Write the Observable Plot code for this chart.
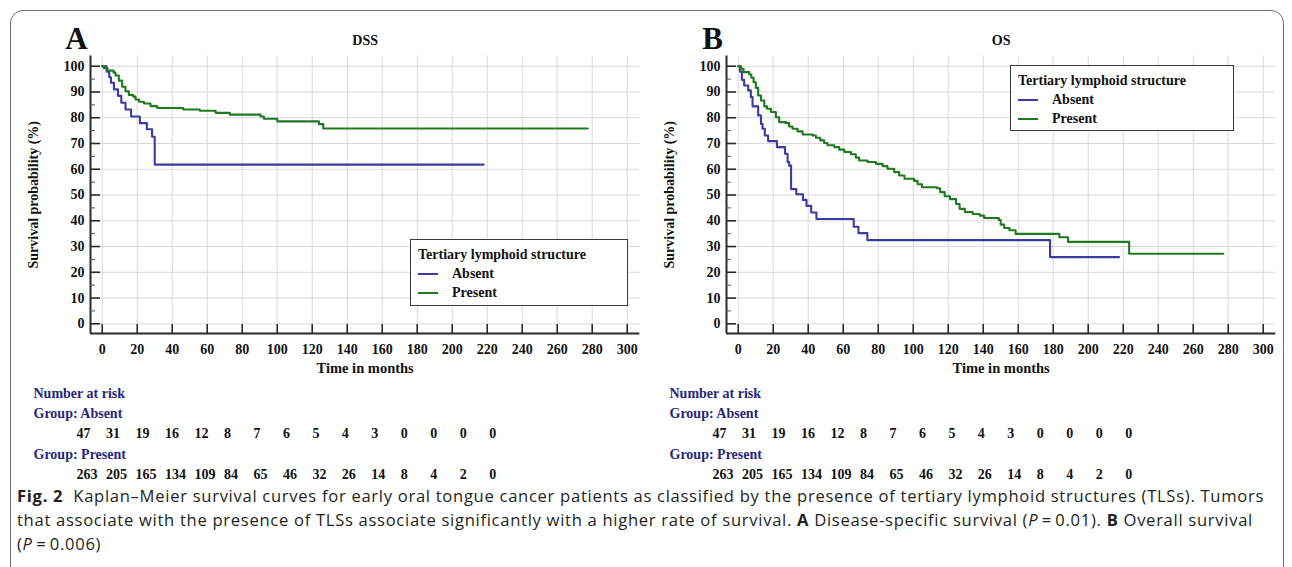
<!DOCTYPE html>
<html><head><meta charset="utf-8">
<script src="https://cdn.jsdelivr.net/npm/d3@7"></script>
<script src="https://cdn.jsdelivr.net/npm/@observablehq/plot@0.6"></script>
<style>
html,body{margin:0;padding:0;background:#fff;}
body{width:1292px;height:567px;overflow:hidden;position:relative;font-family:"Liberation Serif",serif;}
#frame{position:absolute;left:10px;top:10px;width:1272px;height:620px;border:1.6px solid #6e6e6e;border-radius:13px;}
.abs{position:absolute;}
.legend{position:absolute;border:1.6px solid #3a3a3a;background:#fff;box-sizing:border-box;font-weight:bold;font-size:14px;color:#111;}
.legend .ttl{position:absolute;left:7px;white-space:nowrap;}
.legend .item{position:absolute;left:7px;white-space:nowrap;}
.legend .item span.sw{display:inline-block;width:20px;height:2px;vertical-align:middle;margin-right:14px;position:relative;top:-1px;}
#caption{position:absolute;left:17px;top:484px;font-family:"Open Sans","Noto Sans",sans-serif;font-size:16.6px;letter-spacing:0.7px;line-height:24px;color:#231f20;white-space:nowrap;}
#caption b{font-weight:bold;}
</style>
</head><body>
<div id="frame"></div>
<div id="panelA" class="abs" style="left:0;top:0"></div>
<div id="panelB" class="abs" style="left:636px;top:0"></div>
<div id="riskA" class="abs" style="left:0;top:380px"></div>
<div id="riskB" class="abs" style="left:636px;top:380px"></div>
<div id="legA"></div>
<div id="legB"></div>
<div id="caption">
<div><b>Fig. 2</b>&nbsp; Kaplan–Meier survival curves for early oral tongue cancer patients as classified by the presence of tertiary lymphoid structures (TLSs). Tumors</div>
<div>that associate with the presence of TLSs associate significantly with a higher rate of survival. <b>A</b> Disease-specific survival (<i>P</i>&#8201;=&#8201;0.01). <b>B</b> Overall survival</div>
<div>(<i>P</i>&#8201;=&#8201;0.006)</div>
</div>
<script>
// ---------- data ----------
const groups = ["Absent", "Present"];
const groupColors = ["#3b3ba0", "#1f7a1f"];
const xTicks = [0, 20, 40, 60, 80, 100, 120, 140, 160, 180, 200, 220, 240, 260, 280, 300];
const yTicks = [0, 10, 20, 30, 40, 50, 60, 70, 80, 90, 100];
const yMinorTicks = [5, 15, 25, 35, 45, 55, 65, 75, 85, 95];

// DSS (panel A)
const dssAbsentT = [0, 2.5, 4, 5, 6.7, 9, 10.9, 13.3, 16.5, 21.5, 25.5, 28.5, 30, 218];
const dssAbsentS = [100, 97.9, 95.7, 93.6, 91.0, 88.5, 85.8, 83.2, 80.5, 77.9, 75.5, 72.6, 61.8, 61.8];
const dssPresentT = [0, 1, 3, 6.5, 7.6, 9.5, 11.4, 13.3, 15.2, 17.7, 19, 21, 23.8, 27.6, 31.4, 46.3, 55.8, 64.8, 72.9, 90.5, 92.4, 100, 123.8, 126.3, 277.5];
const dssPresentS = [100, 99.2, 98.3, 97.5, 96.4, 94.4, 92.0, 90.3, 88.8, 88.2, 87.1, 86.2, 85.5, 84.5, 83.8, 83.2, 82.7, 81.9, 81.2, 80.5, 79.6, 78.6, 77.5, 75.8, 75.8];

// OS (panel B)
const osAbsentT = [0, 1, 2.1, 3.4, 5.7, 7.2, 8.2, 11.4, 13, 13.9, 15.2, 17.1, 22.1, 26.7, 28.2, 29.1, 30.2, 33.2, 37, 39, 41.7, 44.7, 66, 68.7, 73.8, 178.2, 217.6];
const osAbsentS = [100, 97.9, 94.7, 92.5, 90.6, 88.0, 84.4, 80.9, 77.6, 75.7, 73.1, 70.9, 68.6, 66.0, 62.8, 61.4, 52.3, 50.3, 48.1, 45.8, 43.2, 40.7, 37.7, 35.2, 32.5, 25.9, 25.9];
const osPresentT = [0, 1.5, 3, 6.3, 7.5, 8.8, 10.1, 11.4, 13, 14.9, 16.4, 18.7, 21.5, 23.4, 27.2, 29.1, 31, 33.9, 36.8, 42.5, 44.4, 46.9, 49.1, 51, 54.9, 57.7, 60.6, 64.4, 67.2, 69.1, 73.9, 78.7, 82.5, 85.3, 89.1, 92, 95, 100.5, 102.5, 105, 113.5, 115.4, 118, 121, 124.5, 126.5, 129.5, 134, 138, 140.5, 148.9, 150, 152, 155, 158.5, 183.5, 188.5, 223.4, 277.2];
const osPresentS = [100, 99.0, 97.7, 96.8, 95.5, 93.8, 91.6, 88.6, 86.7, 84.4, 83.5, 82.2, 80.2, 78.3, 77.9, 76.6, 75.7, 74.7, 73.5, 73.1, 72.2, 71.2, 70.2, 69.3, 68.6, 67.6, 66.7, 65.8, 64.5, 63.4, 62.8, 62.1, 61.2, 60.2, 58.9, 57.6, 56.3, 55.5, 54.2, 53.0, 52.6, 51.1, 49.5, 48.4, 46.5, 44.6, 43.4, 42.6, 42.0, 41.1, 40.3, 38.5, 37.2, 36.3, 34.9, 33.6, 31.8, 27.2, 27.2];

// numbers at risk
const riskTimes = [0, 20, 40, 60, 80, 100, 120, 140, 160, 180, 200, 220, 240, 260, 280];
const riskAbsent = [47, 31, 19, 16, 12, 8, 7, 6, 5, 4, 3, 0, 0, 0, 0];
const riskPresent = [263, 205, 165, 134, 109, 84, 65, 46, 32, 26, 14, 8, 4, 2, 0];

// ---------- layout constants ----------
const W = 650, H = 380;
const ML = 90, MR = 10.7, MT = 55.4, MB = 46.9;
const X0 = -6.7, X1 = 307.2, Y0 = -3.8, Y1 = 104;
const pxPerX = (W - ML - MR) / (X1 - X0);
const pxPerY = (H - MT - MB) / (Y1 - Y0);
const serif = "Liberation Serif, Times New Roman, serif";
const navy = "#26267a";

function rows(t, s, g) { return t.map((v, i) => ({t: v, s: s[i], group: g})); }

function survPlot(absT, absS, preT, preS, title, letter) {
  const data = rows(absT, absS, groups[0]).concat(rows(preT, preS, groups[1]));
  return Plot.plot({
    width: W, height: H,
    marginLeft: ML, marginRight: MR, marginTop: MT, marginBottom: MB,
    x: {domain: [X0, X1], axis: null},
    y: {domain: [Y0, Y1], axis: null},
    color: {domain: groups, range: groupColors},
    style: {fontFamily: serif, background: "transparent", overflow: "visible", color: "#111"},
    marks: [
      Plot.ruleX(xTicks, {x: d => d, y1: Y0, y2: Y1, stroke: "#d8d8d8", strokeWidth: 1}),
      Plot.ruleY(yTicks, {y: d => d, x1: X0, x2: X1, stroke: "#d8d8d8", strokeWidth: 1}),
      Plot.line(data, {x: "t", y: "s", z: "group", stroke: "group", curve: "step-after", strokeWidth: 2.1}),
      // axes lines
      Plot.ruleX([X0], {y1: Y0, y2: Y1, stroke: "#2a2a2a", strokeWidth: 2}),
      Plot.ruleY([Y0], {x1: X0, x2: X1, stroke: "#2a2a2a", strokeWidth: 2}),
      // inward ticks
      Plot.ruleY(yTicks, {y: d => d, x1: X0, x2: X0 + 10 / pxPerX, stroke: "#2a2a2a", strokeWidth: 1.6}),
      Plot.ruleY(yMinorTicks, {y: d => d, x1: X0, x2: X0 + 5 / pxPerX, stroke: "#555", strokeWidth: 1}),
      Plot.ruleX(xTicks, {x: d => d, y1: Y0, y2: Y0 + 9 / pxPerY, stroke: "#2a2a2a", strokeWidth: 1.6}),
      // tick labels
      Plot.text(yTicks, {x: X0, y: d => d, text: d => String(d), textAnchor: "end", dx: -6, fontWeight: "bold", fontSize: 14}),
      Plot.text(xTicks, {x: d => d, y: Y0, text: d => String(d), dy: 16, fontWeight: "bold", fontSize: 14}),
      // axis titles
      Plot.text(["Time in months"], {frameAnchor: "bottom", dy: 35, textAnchor: "middle", lineAnchor: "middle", fontWeight: "bold", fontSize: 14.5}),
      Plot.text(["Survival probability (%)"], {frameAnchor: "left", dx: -57, rotate: -90, textAnchor: "middle", lineAnchor: "middle", fontWeight: "bold", fontSize: 14}),
      Plot.text([title], {frameAnchor: "top", dy: -15, textAnchor: "middle", lineAnchor: "middle", fontWeight: "bold", fontSize: 14}),
      Plot.text([letter], {frameAnchor: "top-left", dx: -14, dy: -16.4, textAnchor: "middle", lineAnchor: "middle", fontWeight: "bold", fontSize: 31})
    ]
  });
}

function riskPlot() {
  return Plot.plot({
    width: W, height: 110,
    marginLeft: 76, marginRight: W - 488.8, marginTop: 13, marginBottom: 16,
    x: {domain: [riskTimes[0], riskTimes[riskTimes.length - 1]], axis: null},
    y: {domain: [0, 4], reverse: true, axis: null},
    style: {fontFamily: serif, background: "transparent", overflow: "visible"},
    marks: [
      Plot.text(["Number at risk"], {x: 0, y: 0, dx: -43, textAnchor: "start", fill: navy, fontWeight: "bold", fontSize: 14}),
      Plot.text(["Group: " + groups[0]], {x: 0, y: 1, dx: -43, textAnchor: "start", fill: navy, fontWeight: "bold", fontSize: 14}),
      Plot.text(riskAbsent, {x: (d, i) => riskTimes[i], y: 2, text: d => String(d), textAnchor: "start", fill: "#111", fontWeight: "bold", fontSize: 14}),
      Plot.text(["Group: " + groups[1]], {x: 0, y: 3, dx: -43, textAnchor: "start", fill: navy, fontWeight: "bold", fontSize: 14}),
      Plot.text(riskPresent, {x: (d, i) => riskTimes[i], y: 4, text: d => String(d), textAnchor: "start", fill: "#111", fontWeight: "bold", fontSize: 14})
    ]
  });
}

document.getElementById("panelA").appendChild(survPlot(dssAbsentT, dssAbsentS, dssPresentT, dssPresentS, "DSS", "A"));
document.getElementById("panelB").appendChild(survPlot(osAbsentT, osAbsentS, osPresentT, osPresentS, "OS", "B"));
document.getElementById("riskA").appendChild(riskPlot());
document.getElementById("riskB").appendChild(riskPlot());

function legend(id, left, top, width, height) {
  const el = document.getElementById(id);
  el.className = "legend";
  Object.assign(el.style, {left: left + "px", top: top + "px", width: width + "px", height: height + "px"});
  const t = document.createElement("div");
  t.className = "ttl"; t.style.top = "7px"; t.textContent = "Tertiary lymphoid structure";
  el.appendChild(t);
  groups.forEach((g, i) => {
    const it = document.createElement("div");
    it.className = "item"; it.style.top = (26 + i * 19) + "px";
    const sw = document.createElement("span"); sw.className = "sw"; sw.style.background = groupColors[i];
    it.appendChild(sw); it.appendChild(document.createTextNode(g));
    el.appendChild(it);
  });
}
legend("legA", 410, 239, 218, 67);
legend("legB", 1010, 65, 224, 66);
</script>
</body></html>
